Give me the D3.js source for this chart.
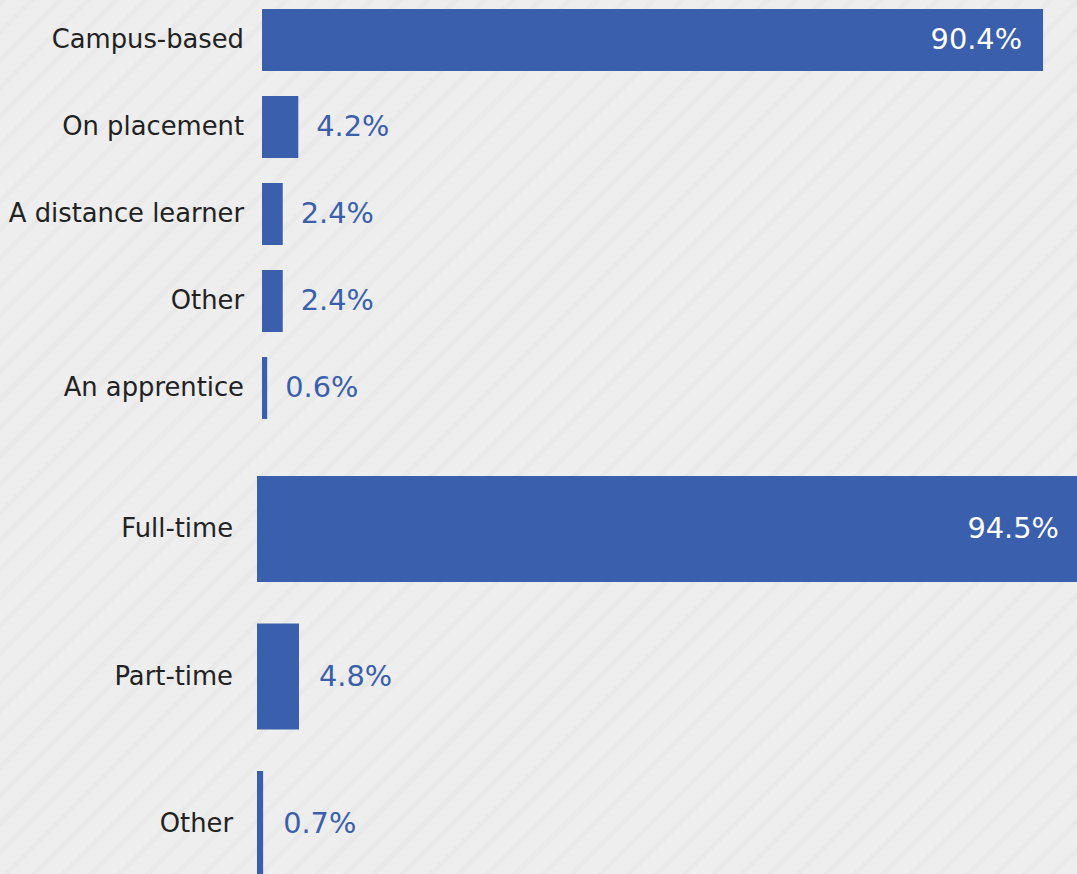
<!DOCTYPE html>
<html>
<head>
<meta charset="utf-8">
<script src="https://cdn.jsdelivr.net/npm/d3@7"></script>
<style>
  html, body { margin: 0; padding: 0; background: #eeeeee; overflow: hidden; }
  svg { display: block; }
</style>
</head>
<body>
<svg id="chart" width="1077" height="874"></svg>
<script>
// Mode of study
const modeCategories = ["Campus-based", "On placement", "A distance learner", "Other", "An apprentice"];
const modeValues = [90.4, 4.2, 2.4, 2.4, 0.6];

// Attendance
const attendanceCategories = ["Full-time", "Part-time", "Other"];
const attendanceValues = [94.5, 4.8, 0.7];

const W = 1077, H = 874;
const BAR = "#3a60ad";
const TEXT = "#222222";
const FONT = "'DejaVu Sans', Verdana, sans-serif";

const svg = d3.select("#chart");

// Striped backdrop
const defs = svg.append("defs");
const pat = defs.append("pattern")
  .attr("id", "stripes")
  .attr("patternUnits", "userSpaceOnUse")
  .attr("width", 20).attr("height", 20)
  .attr("patternTransform", "rotate(45)");
pat.append("rect").attr("width", 20).attr("height", 20).attr("fill", "#eeeeee");
pat.append("rect").attr("x", 0).attr("width", 5).attr("height", 20).attr("fill", "#e9e9e9");
svg.append("rect").attr("width", W).attr("height", H).attr("fill", "url(#stripes)");

function drawGroup(cfg) {
  const data = cfg.categories.map((c, i) => ({ c, v: cfg.values[i] }));
  const p = 1 - cfg.barH / cfg.step;
  const y0 = cfg.top - (p / 2) * cfg.step;
  const y = d3.scaleBand()
    .domain(cfg.categories)
    .range([y0, y0 + cfg.categories.length * cfg.step])
    .paddingInner(p)
    .paddingOuter(p / 2);
  const x = d3.scaleLinear().domain([0, 100]).range([cfg.left, cfg.left + cfg.span]);

  const g = svg.append("g");

  g.selectAll("rect.bar").data(data).join("rect")
    .attr("class", "bar")
    .attr("x", x(0))
    .attr("y", d => y(d.c))
    .attr("width", d => x(d.v) - x(0))
    .attr("height", y.bandwidth())
    .attr("fill", BAR);

  g.selectAll("text.cat").data(data).join("text")
    .attr("class", "cat")
    .attr("x", cfg.labelX)
    .attr("y", d => y(d.c) + y.bandwidth() / 2 - 1)
    .attr("text-anchor", "end")
    .attr("dominant-baseline", "central")
    .attr("font-family", FONT)
    .attr("font-size", 25.8)
    .attr("fill", TEXT)
    .text(d => d.c);

  g.selectAll("text.val").data(data).join("text")
    .attr("class", "val")
    .attr("x", d => d.v > 50 ? x(d.v) - cfg.inset : x(d.v) + cfg.gap)
    .attr("y", d => y(d.c) + y.bandwidth() / 2 - 1)
    .attr("text-anchor", d => d.v > 50 ? "end" : "start")
    .attr("dominant-baseline", "central")
    .attr("font-family", FONT)
    .attr("font-size", 28.8)
    .attr("fill", d => d.v > 50 ? "#ffffff" : BAR)
    .text(d => d3.format(".1f")(d.v) + "%");
}

drawGroup({
  categories: modeCategories, values: modeValues,
  top: 9, step: 87, barH: 62,
  left: 262, span: 864, labelX: 244, inset: 21, gap: 18
});

drawGroup({
  categories: attendanceCategories, values: attendanceValues,
  top: 476, step: 147.5, barH: 106,
  left: 257, span: 875, labelX: 233, inset: 25, gap: 20
});
</script>
</body>
</html>
